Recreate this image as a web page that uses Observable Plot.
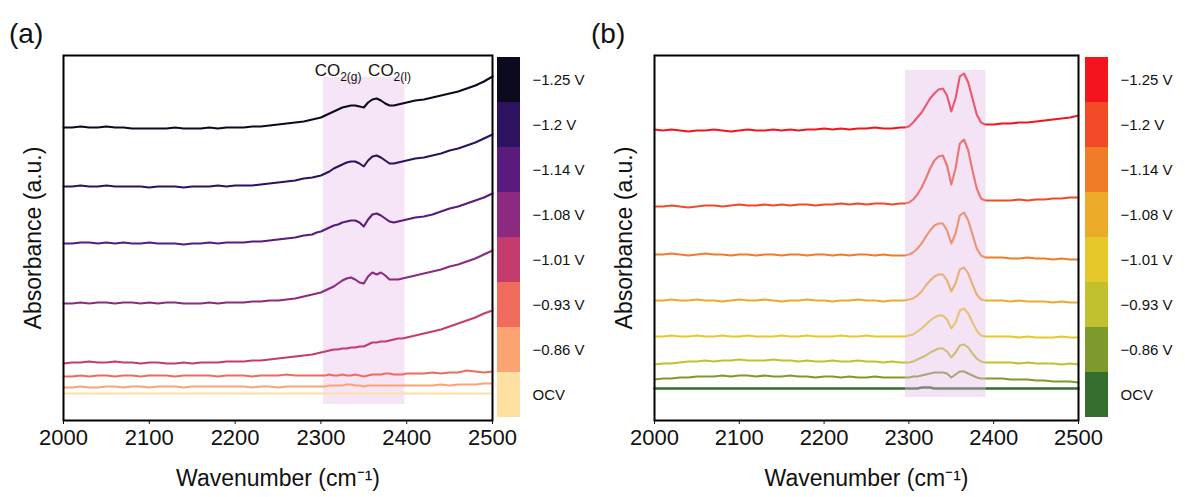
<!DOCTYPE html>
<html><head><meta charset="utf-8">
<script src="https://cdn.jsdelivr.net/npm/d3@7"></script>
<script src="https://cdn.jsdelivr.net/npm/@observablehq/plot@0.6"></script>
<style>
body{margin:0;background:#fff;font-family:"Liberation Sans",Arial,sans-serif;}
#wrap{position:relative;width:1185px;height:497px;overflow:hidden;background:#fff}
.abs{position:absolute;top:0;overflow:visible}
.plab{position:absolute;font-size:28px;line-height:1;color:#111}
</style></head><body><div id="wrap"></div>
<script>
// ---------- data ----------
const labels = ["−1.25 V","−1.2 V","−1.14 V","−1.08 V","−1.01 V","−0.93 V","−0.86 V","OCV"];
const colorsA = ["#0c0a1f","#2d1260","#5a1b7c","#8b2a80","#c43c6e","#f06b5e","#fba471","#fde0a2"];
const colorsB = ["#f5141e","#f24a27","#ef7d27","#ebab2a","#e7c82a","#c2c02e","#7e9a2d","#336e2e"];
const xTicks = [2000,2100,2200,2300,2400,2500];
// wavenumbers (cm-1)
const xs = [2000,2010,2020,2030,2040,2050,2060,2070,2080,2090,2100,2110,2120,2130,2140,2150,2160,2170,2180,2190,2200,2210,2220,2230,2240,2250,2260,2270,2280,2290,
2295,2300,2305,2310,2315,2320,2325,2330,2335,2340,2345,2350,2355,2360,2365,2370,2375,2380,2385,2390,2395,2400,
2410,2420,2430,2440,2450,2460,2470,2480,2490,2500];
// panel (a) spectra (offset, a.u.)
const a_m125 = [293,293,294,293,293,294,293,293,292,292,292,292,292,293,292,292,292,293,292,293,293,293,294,294,295,296,297,298,299,301,
302,303,305,307,309,311,313,314,315,315,314,313,318,321,322,320,317,315,315,316,317,318,
320,321,323,325,327,329,332,335,339,344];
const a_m120 = [234,234,235,234,234,235,234,234,234,234,233,234,234,234,233,234,234,234,235,234,235,235,235,236,237,238,239,240,242,243,
244,245,247,249,252,254,256,258,259,259,257,254,260,264,265,263,260,257,257,258,259,260,
262,263,265,267,270,272,275,278,282,286];
const a_m114 = [177,177,178,178,177,178,177,178,177,177,178,177,177,177,176,177,177,178,177,178,178,178,179,179,180,181,182,183,185,186,
188,189,191,193,195,196,198,199,200,200,198,194,201,206,207,205,202,199,198,199,200,201,
203,204,206,209,212,214,217,220,223,227];
const a_m108 = [117,117,118,117,118,118,117,118,118,117,118,117,118,118,117,117,117,118,117,118,118,118,119,119,120,120,121,122,124,126,
127,128,130,132,134,137,140,142,143,141,138,137,144,148,146,148,145,141,141,141,142,143,
145,147,149,151,154,156,159,162,166,170];
const a_m101 = [57,58,58,59,58,58,59,58,58,57,58,58,57,57,58,57,58,58,58,59,59,59,60,60,61,62,63,64,65,66,
67,68,69,70,71,71,72,72,73,73,74,74,76,78,78,79,79,80,81,82,82,83,
85,87,89,91,94,97,100,103,107,110];
const a_m093 = [44,44,45,44,45,45,44,45,45,44,45,45,45,44,45,45,45,45,44,45,45,45,44,45,45,45,46,45,45,45,
45,45,45,46,45,45,46,45,45,46,45,44,45,46,46,46,47,47,46,46,46,47,
47,47,48,47,48,48,50,49,48,49];
const a_m086 = [33,33,34,33,33,34,34,33,34,34,33,34,34,34,33,34,34,34,34,34,34,34,33,34,34,33,34,34,34,34,
34,34,34,35,35,35,35,36,36,35,35,34,35,35,35,35,35,35,35,35,35,35,
35,35,35,36,35,36,36,36,37,37];
const a_ocv = [27,27,27,27,27,27,27,27,27,27,27,27,27,27,27,27,27,27,27,27,27,27,27,27,27,27,27,27,27,27,
27,27,27,27,27,27,27,27,27,27,27,27,27,27,27,27,27,27,27,27,27,27,
27,27,27,27,27,27,27,27,27,27];
// panel (b) spectra
const b_m125 = [291,290,291,290,289,290,290,291,290,289,290,291,290,290,291,290,291,290,291,291,292,291,292,291,292,292,293,292,292,293,
293,294,298,303,308,315,322,327,331,332,325,309,322,344,347,338,322,306,298,296,296,296,
297,297,298,298,299,300,301,302,303,305];
const b_m120 = [214,214,215,214,213,214,215,215,214,215,216,215,215,216,215,216,215,216,216,215,216,216,217,216,217,216,217,217,216,217,
217,218,221,226,233,242,252,260,264,265,255,236,252,277,281,270,250,232,222,220,220,220,
220,220,221,220,221,221,222,222,223,223];
const b_m114 = [166,166,167,166,165,166,167,166,166,165,166,166,165,166,166,165,166,166,165,166,166,165,166,165,166,166,165,166,165,165,
165,166,168,172,177,184,190,195,197,197,190,177,187,205,208,200,186,172,165,163,163,163,
163,162,162,163,162,162,161,162,161,161];
const b_m108 = [120,120,121,120,120,121,120,120,119,120,121,120,120,121,120,119,120,120,121,120,120,119,120,120,121,120,120,119,120,120,
120,121,122,125,129,135,140,144,146,146,140,129,137,151,153,147,136,126,121,120,120,120,
120,119,120,119,119,119,118,119,118,118];
const b_m101 = [84,84,85,84,84,85,84,84,85,84,84,85,84,84,84,85,84,84,85,84,84,84,85,84,84,85,84,84,84,84,
84,85,86,89,92,96,100,103,105,105,101,92,98,110,112,107,98,90,85,84,84,84,
84,84,83,84,83,83,83,84,83,83];
const b_m093 = [56,57,57,58,59,59,60,59,60,60,61,60,60,60,61,60,60,59,60,59,59,60,59,59,60,59,59,58,59,58,
58,58,59,61,63,65,68,70,72,72,69,63,68,75,76,73,67,62,59,58,58,58,
58,58,57,58,57,57,57,56,57,56];
const b_m086 = [41,42,42,43,43,44,44,44,45,44,45,45,44,45,44,44,45,44,44,43,44,44,43,44,43,43,44,43,43,43,
43,43,44,44,45,46,47,48,48,48,47,43,46,49,49,47,45,43,42,42,42,42,
42,41,41,41,40,40,39,39,39,38];
const b_ocv = [32,32,32,32,32,32,32,32,32,32,32,32,32,32,32,32,32,32,32,32,32,32,32,32,32,32,32,32,32,32,
32,32,32,32,33,33,33,32,32,32,32,32,32,32,32,32,32,32,32,32,32,32,
32,32,32,32,32,32,32,32,32,32];
// highlighted CO2 region
const bandA = {x1: 2303, x2: 2398, y1: 16, y2: 343};
const bandB = {x1: 2296, x2: 2391, y1: 23, y2: 350};
const co2Text = ["CO2(g)", "CO2(l)"];
const co2X = [2320, 2380];
const co2Y = [350, 350];

// ---------- build ----------
const FONT = "Liberation Sans, Arial, sans-serif";
function makeTable(series) {
  return labels.flatMap((lab, i) => xs.map((x, j) => ({x, v: series[i][j], s: lab})));
}
function panel(series, colors, band, over, withCO2, width) {
  const table = makeTable(series);
  const marks = [];
  if (!over) marks.push(Plot.rect([band], {x1: "x1", x2: "x2", y1: "y1", y2: "y2", fill: "#f6e5f6"}));
  marks.push(Plot.line(table.filter(d => d.s !== "OCV"), {x: "x", y: "v", z: "s", stroke: "s", strokeWidth: 2.1}));
  marks.push(Plot.line(table.filter(d => d.s === "OCV"), {x: "x", y: "v", z: "s", stroke: "s", strokeWidth: over ? 2.6 : 2.2}));
  if (over) marks.push(Plot.rect([band], {x1: "x1", x2: "x2", y1: "y1", y2: "y2", fill: "#e4b9e6", fillOpacity: 0.4}));
  if (withCO2) marks.push(Plot.text(co2Text, {x: (d, i) => co2X[i], y: (d, i) => co2Y[i], text: d => d, fontSize: 17, textAnchor: "middle"}));
  marks.push(Plot.frame({stroke: "black", strokeWidth: 2}));
  marks.push(Plot.axisX({ticks: xTicks, tickFormat: d => String(d), tickSize: 4, tickPadding: 5, fontSize: 22, label: null}));
  marks.push(Plot.text(["Wavenumber (cm⁻¹)"], {frameAnchor: "bottom", dy: 58, text: d => d, fontSize: 23, textAnchor: "middle", lineAnchor: "middle"}));
  marks.push(Plot.text(["Absorbance (a.u.)"], {frameAnchor: "left", dx: -30, rotate: -90, text: d => d, fontSize: 23, textAnchor: "middle", lineAnchor: "middle"}));
  return Plot.plot({
    width, height: 497, marginLeft: 63, marginRight: 3, marginTop: 55, marginBottom: 77,
    style: {fontFamily: FONT, background: "transparent", color: "#111", overflow: "visible"},
    x: {domain: [2000, 2500]},
    y: {domain: [0, 365], axis: null},
    color: {domain: labels, range: colors},
    marks
  });
}
function colorbar(colors) {
  return Plot.plot({
    width: 100, height: 497, marginTop: 55, marginBottom: 79, marginLeft: 0, marginRight: 77,
    style: {fontFamily: FONT, background: "transparent", color: "#111", overflow: "visible"},
    x: {axis: null, padding: 0},
    y: {domain: labels, padding: 0},
    color: {domain: labels, range: colors},
    marks: [
      Plot.cell(labels, {x: () => 0, y: d => d, fill: d => d}),
      Plot.axisY({anchor: "right", tickSize: 0, tickPadding: 12, fontSize: 15, label: null})
    ]
  });
}
function subscriptify(svg) {
  d3.select(svg).selectAll("text").each(function() {
    const t = this.textContent;
    if (t === "CO2(g)" || t === "CO2(l)") {
      const sel = d3.select(this);
      sel.text("CO");
      sel.append("tspan").attr("dy", 5).attr("font-size", 12).text(t.slice(2));
    }
  });
}
const wrap = document.getElementById("wrap");
function place(el, left) { el.classList.add("abs"); el.style.left = left + "px"; el.style.overflow = "visible"; wrap.appendChild(el); }
const pa = panel([a_m125,a_m120,a_m114,a_m108,a_m101,a_m093,a_m086,a_ocv], colorsA, bandA, false, true, 495);
subscriptify(pa);
place(pa, 0);
place(colorbar(colorsA), 497);
const pb = panel([b_m125,b_m120,b_m114,b_m108,b_m101,b_m093,b_m086,b_ocv], colorsB, bandB, true, false, 490);
place(pb, 591);
place(colorbar(colorsB), 1085);
const la = document.createElement("div"); la.className = "plab"; la.style.left = "9px"; la.style.top = "20px"; la.textContent = "(a)"; wrap.appendChild(la);
const lb = document.createElement("div"); lb.className = "plab"; lb.style.left = "591px"; lb.style.top = "20px"; lb.textContent = "(b)"; wrap.appendChild(lb);
</script></body></html>
